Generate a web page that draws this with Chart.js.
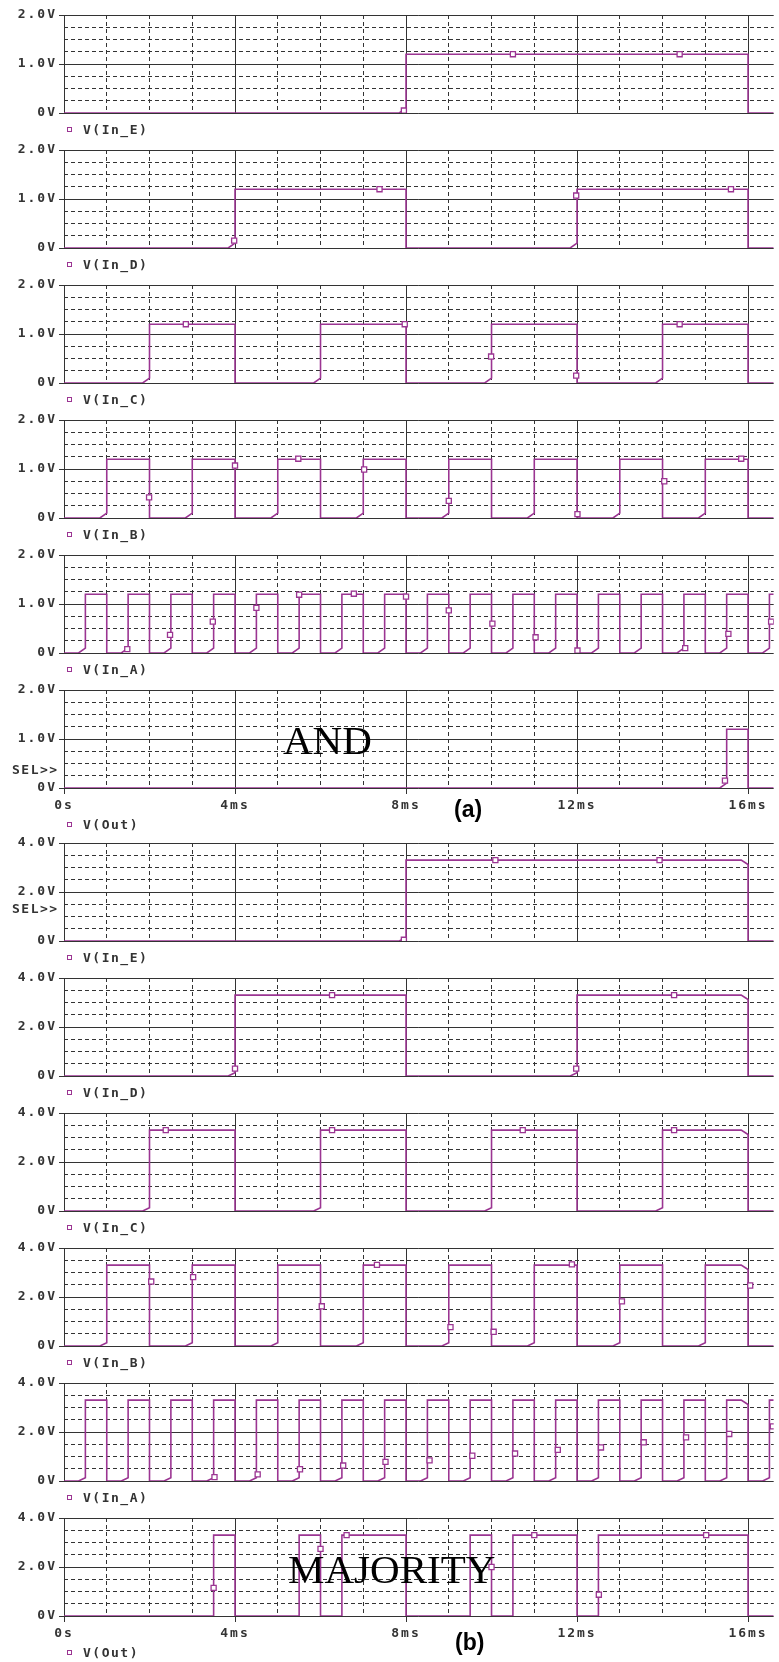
<!DOCTYPE html>
<html>
<head>
<meta charset="utf-8">
<script src="https://cdn.jsdelivr.net/npm/chart.js@4.4.0/dist/chart.umd.min.js"></script>
<style>
  html, body { margin: 0; padding: 0; background: #fff; }
  #page { position: relative; width: 779px; height: 1662px; overflow: hidden; background: #fff; }
  .panel { position: absolute; left: 0; width: 779px; }
  .mono { position: absolute; font: bold 13px "DejaVu Sans Mono", monospace; color: #333; letter-spacing: 1.5px; line-height: 16px; white-space: nowrap; }
  .sq { display: inline-block; width: 3px; height: 3px; border: 1px solid #9b3592; margin-right: 11px; position: relative; top: -2px; }
  .big { position: absolute; font: 41px "Liberation Serif", "Times New Roman", serif; color: #000; line-height: 41px; white-space: nowrap; }
  .tag { position: absolute; font: bold 23px "Liberation Sans", Arial, sans-serif; color: #000; line-height: 25px; }
</style>
</head>
<body>
<div id="page"></div>
<script>
// time axis in ms
const tMax = 16.6;
const levelAnd = 1.2;
const levelMaj = 3.3;

// edge times (ms) of each input / output
const inE_rise = [8];
const inE_fall = [16];
const inD_rise = [4, 12];
const inD_fall = [8, 16];
const inC_rise = [2, 6, 10, 14];
const inC_fall = [4, 8, 12, 16];
const inB_rise = [1, 3, 5, 7, 9, 11, 13, 15];
const inB_fall = [2, 4, 6, 8, 10, 12, 14, 16];
const inA_rise = [0.5, 1.5, 2.5, 3.5, 4.5, 5.5, 6.5, 7.5, 8.5, 9.5, 10.5, 11.5, 12.5, 13.5, 14.5, 15.5, 16.5];
const inA_fall = [1, 2, 3, 4, 5, 6, 7, 8, 9, 10, 11, 12, 13, 14, 15, 16];
const andOut_rise = [15.5];
const andOut_fall = [16];
const majOut_rise = [3.5, 5.5, 6.5, 9.5, 10.5, 12.5];
const majOut_fall = [4, 6, 8, 10, 12, 16];

// marker squares [ms, V]
const andE_marks = [[7.95, 0.05], [10.5, 1.2], [14.4, 1.2]];
const andD_marks = [[3.98, 0.15], [7.38, 1.2], [11.98, 1.07], [15.6, 1.2]];
const andC_marks = [[2.85, 1.2], [7.97, 1.2], [9.99, 0.54], [11.98, 0.15], [14.4, 1.2]];
const andB_marks = [[1.99, 0.42], [4.0, 1.07], [5.48, 1.21], [7.02, 0.99], [9.0, 0.35], [12.01, 0.08], [14.04, 0.75], [15.84, 1.21]];
const andA_marks = [[1.48, 0.08], [2.48, 0.37], [3.48, 0.64], [4.5, 0.92], [5.5, 1.19], [6.78, 1.21], [8.0, 1.15], [9.0, 0.87], [10.02, 0.6], [11.03, 0.32], [12.01, 0.05], [14.53, 0.1], [15.54, 0.39], [16.54, 0.64]];
const andOut_marks = [[15.46, 0.15]];
const majE_marks = [[7.95, 0.05], [10.09, 3.3], [13.93, 3.3]];
const majD_marks = [[4.0, 0.3], [6.27, 3.3], [11.98, 0.3], [14.27, 3.3]];
const majC_marks = [[2.38, 3.3], [6.27, 3.3], [10.73, 3.3], [14.27, 3.3]];
const majB_marks = [[2.04, 2.63], [3.02, 2.81], [6.03, 1.62], [7.32, 3.31], [9.04, 0.77], [10.05, 0.58], [11.88, 3.33], [13.05, 1.82], [16.05, 2.47]];
const majA_marks = [[3.52, 0.16], [4.53, 0.27], [5.52, 0.48], [6.53, 0.63], [7.52, 0.78], [8.55, 0.84], [9.55, 1.03], [10.55, 1.12], [11.55, 1.27], [12.56, 1.37], [13.56, 1.58], [14.55, 1.78], [15.56, 1.92], [16.58, 2.23]];
const majOut_marks = [[3.5, 1.15], [6.0, 2.74], [6.61, 3.3], [10.0, 2.0], [11.0, 3.3], [12.51, 0.87], [15.02, 3.3]];

const traceColor = '#9b3592';
const gridColor = '#333';

const panels = [
  { top: 15,   name: 'V(In_E)', rise: inE_rise, fall: inE_fall, level: levelAnd, max: 2, marks: andE_marks, ramp: 0.1 },
  { top: 150,  name: 'V(In_D)', rise: inD_rise, fall: inD_fall, level: levelAnd, max: 2, marks: andD_marks, ramp: 0.1 },
  { top: 285,  name: 'V(In_C)', rise: inC_rise, fall: inC_fall, level: levelAnd, max: 2, marks: andC_marks, ramp: 0.1 },
  { top: 420,  name: 'V(In_B)', rise: inB_rise, fall: inB_fall, level: levelAnd, max: 2, marks: andB_marks, ramp: 0.1 },
  { top: 555,  name: 'V(In_A)', rise: inA_rise, fall: inA_fall, level: levelAnd, max: 2, marks: andA_marks, ramp: 0.1 },
  { top: 690,  name: 'V(Out)',  rise: andOut_rise, fall: andOut_fall, level: levelAnd, max: 2, marks: andOut_marks, ramp: 0.1, xLabels: true },
  { top: 843,  name: 'V(In_E)', rise: inE_rise, fall: inE_fall, level: levelMaj, max: 4, marks: majE_marks, ramp: 0.13, droop: true },
  { top: 978,  name: 'V(In_D)', rise: inD_rise, fall: inD_fall, level: levelMaj, max: 4, marks: majD_marks, ramp: 0.13, droop: true },
  { top: 1113, name: 'V(In_C)', rise: inC_rise, fall: inC_fall, level: levelMaj, max: 4, marks: majC_marks, ramp: 0.13, droop: true },
  { top: 1248, name: 'V(In_B)', rise: inB_rise, fall: inB_fall, level: levelMaj, max: 4, marks: majB_marks, ramp: 0.13, droop: true },
  { top: 1383, name: 'V(In_A)', rise: inA_rise, fall: inA_fall, level: levelMaj, max: 4, marks: majA_marks, ramp: 0.13, droop: true },
  { top: 1518, name: 'V(Out)',  rise: majOut_rise, fall: majOut_fall, level: levelMaj, max: 4, marks: majOut_marks, ramp: 0, xLabels: true }
];

const plotH = 98;
const padTop = 10;

// step trace from the edge lists
function buildWave(p) {
  const edges = p.rise.map(t => ({ t, up: true }))
    .concat(p.fall.map(t => ({ t, up: false })))
    .sort((a, b) => a.t - b.t);
  const pts = [{ x: 0, y: 0 }];
  let cur = 0;
  edges.forEach(e => {
    if (e.up) {
      if (p.ramp) {
        pts.push({ x: e.t - 0.16, y: 0 }, { x: e.t, y: p.ramp });
      } else {
        pts.push({ x: e.t, y: 0 });
      }
      pts.push({ x: e.t, y: p.level });
      cur = p.level;
    } else {
      if (p.droop && e.t === 16) {
        pts.push({ x: e.t - 0.16, y: p.level }, { x: e.t, y: p.level - 0.18 });
      } else {
        pts.push({ x: e.t, y: p.level });
      }
      pts.push({ x: e.t, y: 0 });
      cur = 0;
    }
  });
  pts.push({ x: tMax, y: cur });
  return pts;
}

const isMult = (v, m) => Math.abs(v / m - Math.round(v / m)) < 1e-6;
const monoFont = { family: 'DejaVu Sans Mono', size: 13, weight: 'bold' };

const spacingPlugin = {
  id: 'spacing',
  beforeDraw(chart) { chart.ctx.letterSpacing = '2px'; }
};

const page = document.getElementById('page');

panels.forEach(p => {
  const xH = p.xLabels ? 30 : 10;
  const h = padTop + plotH + xH;
  const box = document.createElement('div');
  box.className = 'panel';
  box.style.top = (p.top - padTop) + 'px';
  box.style.height = h + 'px';
  const cv = document.createElement('canvas');
  cv.width = 779;
  cv.height = h;
  cv.style.width = '779px';
  cv.style.height = h + 'px';
  box.appendChild(cv);
  page.appendChild(box);

  const major = p.max / 2;
  new Chart(cv, {
    type: 'line',
    data: {
      datasets: [
        {
          data: p.marks.map(m => ({ x: m[0], y: m[1] })),
          showLine: false,
          pointStyle: 'rect',
          pointRadius: 3.6,
          pointBorderWidth: 1.3,
          pointBorderColor: traceColor,
          pointBackgroundColor: '#fff'
        },
        {
          data: buildWave(p),
          borderColor: traceColor,
          borderWidth: 1.6,
          pointRadius: 0,
          tension: 0,
          fill: false
        }
      ]
    },
    options: {
      responsive: false,
      animation: false,
      devicePixelRatio: 1,
      layout: { padding: { top: padTop, left: 0, right: 0, bottom: 0 } },
      plugins: { legend: { display: false }, tooltip: { enabled: false } },
      scales: {
        x: {
          type: 'linear',
          min: 0,
          max: tMax,
          afterFit: s => { s.height = xH; },
          ticks: {
            display: !!p.xLabels,
            stepSize: 1,
            autoSkip: false,
            includeBounds: false,
            maxRotation: 0,
            padding: 4,
            color: '#333',
            font: monoFont,
            callback: v => isMult(v, 4) ? (v === 0 ? '0s' : v + 'ms') : ''
          },
          grid: {
            color: gridColor,
            lineWidth: 1,
            drawTicks: !!p.xLabels,
            tickLength: 6,
            tickColor: c => (c.tick && isMult(c.tick.value, 4)) ? gridColor : 'rgba(0,0,0,0)'
          },
          border: {
            display: false,
            dash: c => (c.tick && !isMult(c.tick.value, 4)) ? [4, 3] : []
          }
        },
        y: {
          min: 0,
          max: p.max,
          afterFit: s => { s.width = 64; },
          ticks: {
            stepSize: p.max / 8,
            autoSkip: false,
            padding: 2,
            color: '#333',
            font: monoFont,
            callback: v => isMult(v, major) ? (v === 0 ? '0V' : v.toFixed(1) + 'V') : ''
          },
          grid: {
            color: gridColor,
            lineWidth: 1,
            tickLength: 5,
            tickColor: c => (c.tick && isMult(c.tick.value, major)) ? gridColor : 'rgba(0,0,0,0)'
          },
          border: {
            display: false,
            dash: c => (c.tick && !isMult(c.tick.value, major)) ? [4, 3] : []
          }
        }
      }
    },
    plugins: [spacingPlugin]
  });

  // legend under each panel
  const leg = document.createElement('div');
  leg.className = 'mono';
  leg.style.left = '67px';
  leg.style.top = (p.top + plotH + (p.xLabels ? 37 : 17) - 8) + 'px';
  leg.innerHTML = '<span class="sq"></span>' + p.name;
  page.appendChild(leg);
});

function addText(cls, txt, left, top) {
  const d = document.createElement('div');
  d.className = cls;
  d.textContent = txt;
  d.style.left = left + 'px';
  d.style.top = top + 'px';
  page.appendChild(d);
}
addText('mono', 'SEL>>', 12, 762);
addText('mono', 'SEL>>', 12, 901);
addText('big', 'AND', 283, 720);
addText('big', 'MAJORITY', 288, 1549);
addText('tag', '(a)', 454, 797);
addText('tag', '(b)', 455, 1630);
</script>
</body>
</html>
